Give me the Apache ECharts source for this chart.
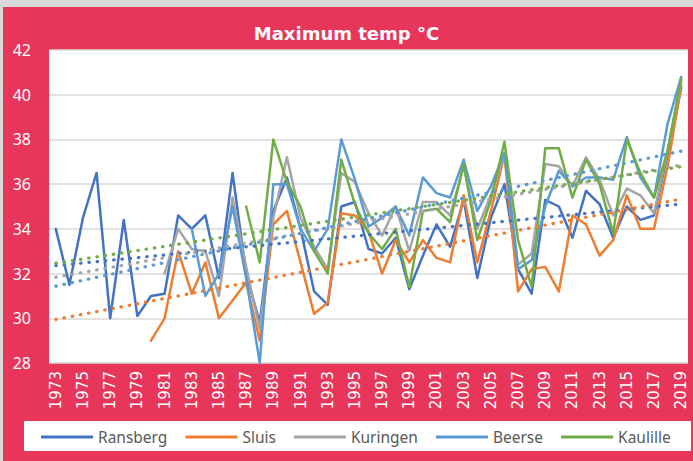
<!DOCTYPE html>
<html>
<head>
<meta charset="utf-8">
<script src="https://cdn.jsdelivr.net/npm/echarts@6/dist/echarts.min.js"></script>
<style>
html,body{margin:0;padding:0;background:#d9d9d9;}
#c{width:693px;height:461px;}
</style>
</head>
<body>
<div id="c"></div>
<script>
const years = ['1973','1974','1975','1976','1977','1978','1979','1980','1981','1982','1983','1984','1985','1986','1987','1988','1989','1990','1991','1992','1993','1994','1995','1996','1997','1998','1999','2000','2001','2002','2003','2004','2005','2006','2007','2008','2009','2010','2011','2012','2013','2014','2015','2016','2017','2018','2019'];

const ransberg = [34.0,31.5,34.5,36.5,30.0,34.4,30.1,31.0,31.1,34.6,34.0,34.6,31.8,36.5,32.0,29.8,34.8,36.3,34.0,31.2,30.6,35.0,35.2,33.1,32.9,33.6,31.3,32.8,34.2,33.2,35.3,31.8,34.5,36.0,32.2,31.1,35.3,35.0,33.6,35.7,35.1,33.6,35.0,34.4,34.6,37.3,40.3];

const sluis = [null,null,null,null,null,null,null,29.0,30.0,33.0,31.1,32.5,30.0,30.8,31.6,29.0,34.2,34.8,32.5,30.2,30.7,34.7,34.6,33.9,32.0,33.5,32.5,33.5,32.7,32.5,35.5,32.5,34.8,37.3,31.2,32.2,32.3,31.2,34.6,34.2,32.8,33.5,35.5,34.0,34.0,36.8,40.4];

const kuringen = [null,null,null,null,null,null,null,null,32.0,34.0,33.1,33.0,31.0,35.4,32.3,29.5,34.5,37.2,34.5,33.2,32.2,36.5,36.1,34.7,33.7,35.0,33.0,35.2,35.2,34.6,36.8,34.0,35.5,37.3,32.4,32.9,36.9,36.8,35.9,37.2,36.2,34.6,35.8,35.5,34.7,37.5,40.6];

const beerse = [null,null,null,null,null,null,null,null,null,null,34.0,31.0,32.0,35.0,31.8,28.0,36.0,36.0,34.0,33.0,34.0,38.0,36.2,34.1,34.5,35.0,33.7,36.3,35.6,35.4,37.1,34.8,35.9,37.4,32.2,32.6,35.0,36.6,35.9,36.3,36.3,36.2,38.1,36.3,35.4,38.7,40.8];

const kaulille = [null,null,null,null,null,null,null,null,null,null,null,null,null,null,35.0,32.5,38.0,36.1,35.0,33.0,32.0,37.1,35.1,33.8,33.1,34.0,31.4,34.8,34.9,34.3,36.9,33.5,35.3,37.9,33.5,31.4,37.6,37.6,35.4,37.1,36.0,33.8,38.0,36.5,35.4,37.5,40.7];

const seriesNames = ['Ransberg','Sluis','Kuringen','Beerse','Kaulille'];
const seriesData = [ransberg, sluis, kuringen, beerse, kaulille];
const colors = ['#4472C4','#ED7D31','#A5A5A5','#5B9BD5','#70AD47'];
const Y_MIN = 28, Y_MAX = 42, Y_STEP = 2;

// linear least-squares trend over the category index (like Excel's line-chart trendline)
function trend(arr){
  let n=0,sx=0,sy=0,sxx=0,sxy=0;
  arr.forEach((v,i)=>{ if(v==null) return; n++; sx+=i; sy+=v; sxx+=i*i; sxy+=i*v; });
  const b=(n*sxy-sx*sy)/(n*sxx-sx*sx);
  const a=(sy-b*sx)/n;
  return arr.map((_,i)=>a+b*i);
}

const chart = echarts.init(document.getElementById('c'), null, {renderer:'svg'});
const series = [];
seriesData.forEach((d,k)=>{
  series.push({
    name: seriesNames[k], type:'line', data:d, symbol:'none', showSymbol:false,
    connectNulls:false, silent:true, z:2,
    lineStyle:{color:colors[k], width:2.5, cap:'round', join:'round'},
    itemStyle:{color:colors[k]},
    emphasis:{disabled:true}
  });
});
seriesData.forEach((d,k)=>{
  series.push({
    name: seriesNames[k]+' trend', type:'line', data:trend(d), symbol:'none', showSymbol:false,
    silent:true, z:3,
    lineStyle:{color:colors[k], width:3.2, type:[0.5,7.8], cap:'round'},
    itemStyle:{color:colors[k]},
    emphasis:{disabled:true}
  });
});

chart.setOption({
  animation:false,
  backgroundColor:'#d9d9d9',
  graphic:[
    {type:'rect', z:-10, shape:{x:3,y:7,width:690,height:454}, style:{fill:'#E8355A'}, silent:true},
    {type:'rect', z:-9, shape:{x:24,y:421,width:667,height:30}, style:{fill:'#ffffff'}, silent:true}
  ],
  title:{
    text:'Maximum temp °C', left:'center', top:19,
    textStyle:{color:'#ffffff', fontSize:18, fontWeight:'bold', fontFamily:'DejaVu Sans'}
  },
  legend:{
    data:seriesNames, left:36, top:424, itemWidth:52, itemHeight:3, itemGap:18, icon:'rect',
    textStyle:{color:'#595959', fontSize:15.5, fontFamily:'Noto Sans'}
  },
  grid:{left:49, right:5, top:50, bottom:98, show:true, backgroundColor:'#ffffff', borderWidth:0},
  xAxis:{
    type:'category', data:years, boundaryGap:true,
    axisLine:{show:false}, axisTick:{show:false},
    axisLabel:{interval:1, rotate:90, color:'#ffffff', fontSize:15, fontFamily:'DejaVu Sans', margin:8}
  },
  yAxis:{
    type:'value', min:Y_MIN, max:Y_MAX, interval:Y_STEP,
    axisLine:{show:false}, axisTick:{show:false},
    splitLine:{lineStyle:{color:'#d9d9d9', width:1.5}},
    axisLabel:{color:'#ffffff', fontSize:16, fontFamily:'Noto Sans', margin:18}
  },
  series:series
});
</script>
</body>
</html>
